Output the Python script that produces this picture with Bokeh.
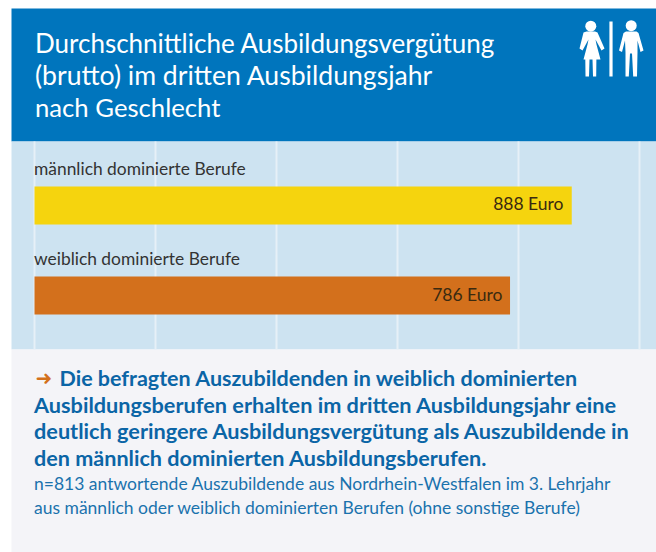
from bokeh.plotting import figure
from bokeh.models import Range1d
from bokeh.core.properties import value
from bokeh.embed import file_html
from bokeh.resources import INLINE

title_lines = ["Durchschnittliche Ausbildungsvergütung", "(brutto) im dritten Ausbildungsjahr", "nach Geschlecht"]
categories = ["männlich dominierte Berufe", "weiblich dominierte Berufe"]
values = [888, 786]
value_labels = ["888 Euro", "786 Euro"]
grid_values = [0, 200, 400, 600, 800, 1000]
bold_lines = ["Die befragten Auszubildenden in weiblich dominierten",
              "Ausbildungsberufen erhalten im dritten Ausbildungsjahr eine",
              "deutlich geringere Ausbildungsvergütung als Auszubildende in",
              "den männlich dominierten Ausbildungsberufen."]
note_lines = ["n=813 antwortende Auszubildende aus Nordrhein-Westfalen im 3. Lehrjahr",
              "aus männlich oder weiblich dominierten Berufen (ohne sonstige Berufe)"]

W, H = 656, 552
PX = 0.605
X0 = 34
def X(px):
    return (px - X0) / PX
FONT = "Lato"

p = figure(width=W, height=H, output_backend="svg", toolbar_location=None,
           x_range=Range1d(X(0), X(W)), y_range=Range1d(H, 0),
           min_border=0, outline_line_color=None, background_fill_color="white", border_fill_color="white")
p.axis.visible = False
p.grid.visible = False

def box(l, r, t, b, c):
    p.quad(left=[X(l)], right=[X(r)], top=[t], bottom=[b], fill_color=c, line_color=None)

box(11, 656, 8, 141, "#0075bd")
box(11, 656, 141, 349, "#cde3f1")
box(11, 656, 349, 552, "#f4f4f8")

p.segment(x0=grid_values, x1=grid_values, y0=[141] * 6, y1=[349] * 6, line_color="#e6f0f7", line_width=2)

bar_top = [186, 276]
bar_bot = [224, 314]
p.quad(left=[0, 0], right=values, top=bar_top, bottom=bar_bot, fill_color=["#f5d40e", "#d3701c"], line_color=None)

def txt(x, y, s, size, color, align="left", font=FONT, style="normal"):
    p.text(x=[X(x)], y=[y - 0.4 * size], text=[s], text_font=value(font), text_font_size=f"{size}px", text_color=color,
           text_align=align, text_baseline="alphabetic", text_font_style=style)

for s, y, sz in zip(title_lines, [53, 85, 117], [26, 26.6, 25.7]):
    txt(34.5, y, s, sz, "white")
for s, y in zip(categories, [175, 265]):
    txt(33.5, y, s, 17.4, "#333333")
for s, y, x in zip(value_labels, [210, 301], [563, 502]):
    txt(x, y, s, 17.5, "#3a2a10", align="right")

txt(35, 385, "➜", 20, "#d3701c", font="DejaVu Sans", style="bold")
for s, y, x, sz in zip(bold_lines, [386, 413, 439, 466], [59, 33.5, 33.5, 33.5], [21.5, 21.7, 21.7, 21.6]):
    txt(x, y, s, sz, "#0b65a6", style="bold")
for s, y in zip(note_lines, [490, 514]):
    txt(33.5, y, s, 17.5, "#1a72ad")

# icon
def poly(xs, ys):
    p.patch(x=[X(v) for v in xs], y=ys, fill_color="white", line_color=None)
p.scatter(x=[X(590.3), X(630.7)], y=[25.7, 25.2], size=[11, 11], fill_color="white", line_color=None)
poly([608.9, 612.1, 612.1, 608.9], [21, 21, 76, 76])
poly([586, 594.5, 597, 604, 601, 595, 596, 600, 595.9, 595.7, 592.5, 592, 589, 588.5, 585, 584.8, 583, 587, 588, 582, 579, 583],
     [31, 31, 32, 48, 50, 39, 44, 59, 59, 76, 76, 59, 59, 76, 76, 59, 59, 44, 39, 50, 48, 32])
poly([625.5, 636, 638, 643, 640, 637, 637, 636.5, 632.7, 631.5, 629.5, 628.3, 625, 625, 624.5, 621.5, 618.5, 623],
     [31, 31, 32.5, 50, 51.5, 40, 52, 76, 76, 53, 53, 76, 76, 52, 40, 51.5, 50, 32.5])

open("out.html", "w").write(file_html(p, INLINE))
